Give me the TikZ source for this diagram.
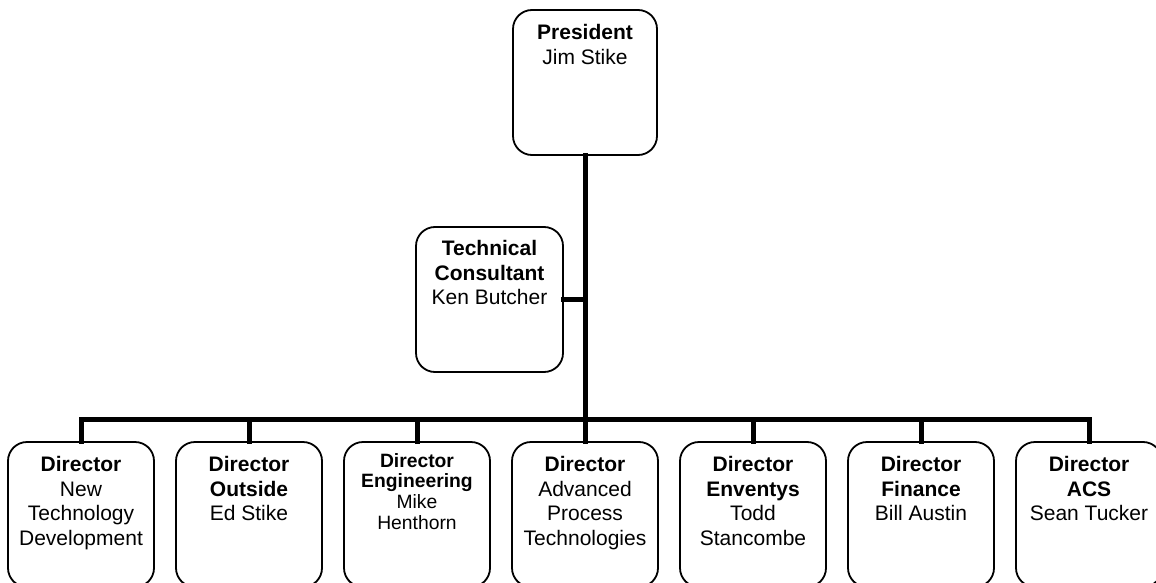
\documentclass[tikz,border=0pt]{standalone}
\usepackage{fontspec}
\setmainfont{Liberation Sans}
\begin{document}
\begin{tikzpicture}[x=1pt,y=-1pt,
  box/.style={draw=black,line width=1.8pt,rounded corners=19pt,minimum width=146pt,minimum height=145pt,inner sep=0pt,fill=white},
  txt/.style={anchor=north,inner sep=0pt,align=center,font=\fontsize{21}{24.6}\selectfont},
  smalltxt/.style={anchor=north,inner sep=0pt,align=center,font=\fontsize{19.3}{20.8}\selectfont},
  conn/.style={line width=5pt,line join=miter,line cap=rect}]
\useasboundingbox (0,0) rectangle (1156,583);
\clip (0,0) rectangle (1156,583);
% boxes
\node[box,minimum width=144pt] (pres) at (585,82.5) {};
\node[box,minimum width=147pt] (cons) at (489.5,299.5) {};
\foreach \i/\x in {1/81,2/249,3/417,4/585,5/753,6/921,7/1089}{
  \node[box] (d\i) at (\x,514.5) {};
}
\coordinate (bar) at (585,419);
% connectors
\draw[conn] (pres.south) -- (bar);
\draw[conn] (cons.east) -- (cons.east -| bar);
\draw[conn] (d1.north) -- (d1.north |- bar) -- (d7.north |- bar) -- (d7.north);
\foreach \i in {2,3,4,5,6}{
  \draw[conn] (d\i.north) -- (d\i.north |- bar);
}
% texts
\node[txt,font=\fontsize{21}{25.5}\selectfont] (presT) at (585,24) {\textbf{President}\\Jim Stike};
\node[txt] (consT) at (489.5,240) {\textbf{Technical}\\\textbf{Consultant}\\Ken Butcher};
\node[txt] (d1T) at (81,456) {\textbf{Director}\\New\\Technology\\Development};
\node[txt] (d2T) at (249,456) {\textbf{Director}\\\textbf{Outside}\\Ed Stike};
\node[smalltxt] (d3T) at (417,453) {\textbf{Director}\\\textbf{Engineering}\\Mike\\Henthorn};
\node[txt] (d4T) at (585,456) {\textbf{Director}\\Advanced\\Process\\Technologies};
\node[txt] (d5T) at (753,456) {\textbf{Director}\\\textbf{Enventys}\\Todd\\Stancombe};
\node[txt] (d6T) at (921,456) {\textbf{Director}\\\textbf{Finance}\\Bill Austin};
\node[txt] (d7T) at (1089,456) {\textbf{Director}\\\textbf{ACS}\\Sean Tucker};
\end{tikzpicture}
\end{document}
